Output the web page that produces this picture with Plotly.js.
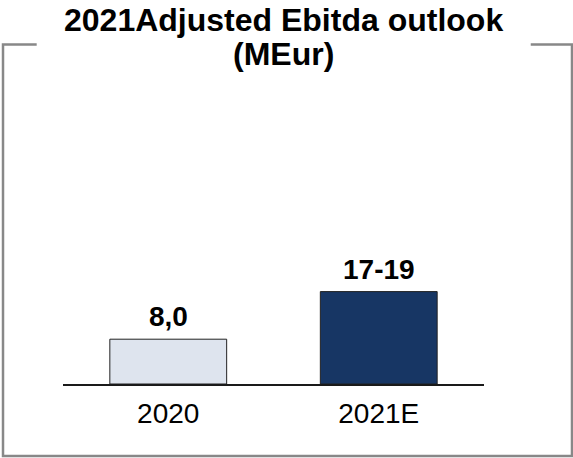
<!DOCTYPE html>
<html>
<head>
<meta charset="utf-8">
<script src="https://cdn.plot.ly/plotly-3.0.1.min.js"></script>
<style>html,body{margin:0;padding:0;background:#fff;}#chart{width:573px;height:458px;}</style>
</head>
<body>
<div id="chart"></div>
<script>
var categories = ["2020", "2021E"];
var values = [8.0, 16.5];
var valueLabels = ["8,0", "17-19"];
var barColors = ["#dee4ee", "#173664"];
var titleLines = ["2021Adjusted Ebitda outlook", "(MEur)"];

var FONT = "'Liberation Sans', Arial, sans-serif";

var trace = {
  type: "bar",
  x: categories,
  y: values,
  width: 0.555,
  marker: {color: barColors, line: {color: "#222222", width: 1}},
  hoverinfo: "none"
};

var annotations = [];
for (var i = 0; i < categories.length; i++) {
  annotations.push({
    x: i, y: values[i], xref: "x", yref: "y",
    text: "<b>" + valueLabels[i] + "</b>", showarrow: false,
    yanchor: "bottom", yshift: 5,
    font: {family: FONT, size: 28, color: "#000"}
  });
}
annotations.push({
  x: 0.5226, y: (384 - 20) / 224, xref: "paper", yref: "paper",
  text: "<b>" + titleLines[0] + "</b>", showarrow: false,
  xanchor: "center", yanchor: "middle",
  font: {family: FONT, size: 32, color: "#000"}
});
annotations.push({
  x: 0.5226, y: (384 - 54) / 224, xref: "paper", yref: "paper",
  text: "<b>" + titleLines[1] + "</b>", showarrow: false,
  xanchor: "center", yanchor: "middle",
  font: {family: FONT, size: 32, color: "#000"}
});

var L = -0.1425, R = 1.209, T = 1.5156, B = -0.3214, g1 = -0.0625, g2 = 1.111;
var shapes = [
  {type: "path", xref: "paper", yref: "paper",
   path: "M " + g1 + " " + T + " L " + L + " " + T + " L " + L + " " + B + " L " + R + " " + B + " L " + R + " " + T + " L " + g2 + " " + T,
   line: {color: "#888888", width: 2.5}}
];

var layout = {
  width: 573, height: 458,
  margin: {l: 63, r: 89, t: 160, b: 74, pad: 0},
  paper_bgcolor: "#ffffff", plot_bgcolor: "#ffffff",
  showlegend: false,
  xaxis: {
    type: "category", range: [-0.5, 1.5],
    showline: true, linecolor: "#1a1a1a", linewidth: 1.5,
    showgrid: false, zeroline: false, ticks: "",
    ticklabelstandoff: 4,
    tickfont: {family: FONT, size: 28, color: "#000"},
    fixedrange: true
  },
  yaxis: {range: [0, 40], visible: false, fixedrange: true},
  annotations: annotations,
  shapes: shapes
};

Plotly.newPlot("chart", [trace], layout, {displayModeBar: false, staticPlot: true});
</script>
</body>
</html>
